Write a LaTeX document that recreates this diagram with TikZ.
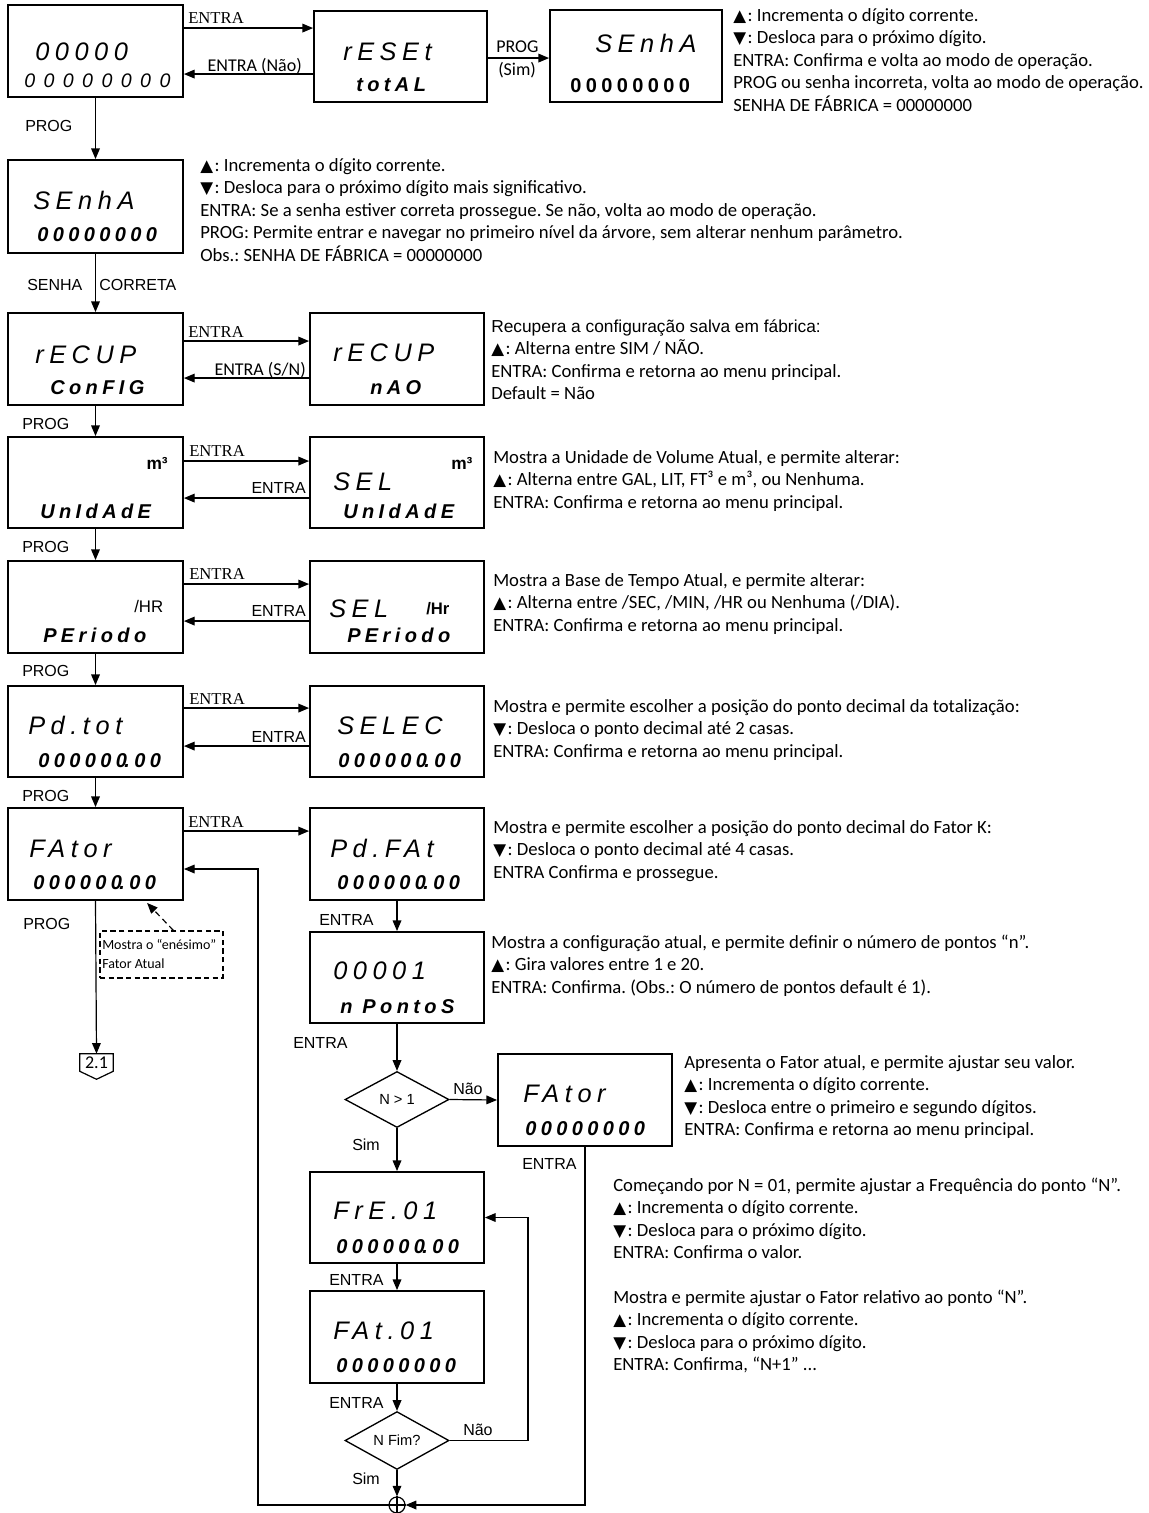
\documentclass[tikz,border=0pt]{standalone}
\usepackage{fontspec}
\setmainfont{Carlito}
\newfontfamily\arialf{Liberation Sans}
\newfontfamily\timesf{Liberation Serif}
\newfontfamily\lcdf[LetterSpace=22]{Liberation Sans}
\newfontfamily\lcdwf[LetterSpace=43]{Liberation Sans}
\newfontfamily\symf{DejaVu Sans}
\usetikzlibrary{arrows.meta,calc,shapes.geometric}
\newcommand\tup{{\symf\fontsize{12.5}{16.9}\selectfont ▲}\kern1.2pt}
\newcommand\tdn{{\symf\fontsize{12.5}{16.9}\selectfont ▼}\kern1.2pt}
% display box from its corners, given in pixel units
\newcommand\pbox[5]{\node[box,minimum width={(#4-#2)*0.75pt},minimum height={(#5-#3)*0.75pt}] (#1) at ({(#2+#4)/2},{(#3+#5)/2}) {};}
\tikzset{
  box/.style={draw,line width=1.4pt,inner sep=0pt},
  arr/.style={line width=0.9pt,-{Triangle[length=8pt,width=6.5pt]}},
  lcdtop/.style={font=\lcdf\itshape\fontsize{19}{22}\selectfont,anchor=base west,inner sep=0pt},
  lcdbot/.style={font=\lcdf\bfseries\itshape\fontsize{15}{18}\selectfont,anchor=base west,inner sep=0pt},
  sans/.style={font=\arialf\fontsize{12}{14}\selectfont,anchor=base west,inner sep=0pt},
  serif/.style={font=\timesf\fontsize{12.5}{14}\selectfont,anchor=base west,inner sep=0pt},
  cal/.style={font=\fontsize{13.5}{15}\selectfont,anchor=base west,inner sep=0pt},
  desc/.style={font=\frenchspacing\fontsize{14}{16.9}\selectfont,align=left,anchor=north west,inner sep=0pt},
  dia/.style={draw,diamond,line width=1pt,inner sep=0pt,minimum width=78pt,minimum height=42pt,font=\arialf\fontsize{11}{13}\selectfont},
}
\begin{document}
\begin{tikzpicture}[x=0.75pt,y=-0.75pt]
\useasboundingbox[fill=white] (0,0) rectangle (1149,1513);

% ---------- boxes ----------
\pbox{A}{8}{5}{183}{97}
\pbox{R}{314}{11}{487}{102}
\pbox{S1}{550}{10}{722}{102}
\pbox{S2}{8}{160}{183}{253}
\pbox{C1}{8}{313}{183}{405}
\pbox{C2}{310}{313}{484}{405}
\pbox{U1}{8}{437}{183}{528}
\pbox{U2}{310}{437}{484}{528}
\pbox{P1}{8}{561}{183}{653}
\pbox{P2}{310}{561}{484}{653}
\pbox{T1}{8}{686}{183}{777}
\pbox{T2}{310}{686}{484}{777}
\pbox{F}{8}{808}{183}{900}
\pbox{PF}{310}{808}{484}{900}
\pbox{NP}{310}{932}{484}{1023}
\pbox{F2}{498}{1054}{672}{1146}
\pbox{FR}{310}{1172}{484}{1263}
\pbox{FT}{310}{1291}{484}{1383}

\node[dia] (D1) at (397,1099.5) {N > 1};
\node[dia] (D2) at (397,1440.5) {N Fim?};
\node[draw,circle,minimum size=12pt,inner sep=0pt,line width=0.9pt] (J) at (397,1505) {};
\draw[line width=0.9pt] (J.north) -- (J.south) (J.west) -- (J.east);

% ---------- display texts ----------
\node[lcdtop] (A1) at (35,61) {00000};
\node[font=\lcdwf\itshape\fontsize{14.7}{18}\selectfont,anchor=base west,inner sep=0pt] (A2) at (24,88) {00000000};
\node[lcdtop] (R1) at (343,61) {rESEt};
\node[lcdbot] (R2) at (356,91) {totAL};
\node[lcdtop] (S11) at (595,53) {SEnhA};
\node[font=\lcdf\bfseries\fontsize{15}{18}\selectfont,anchor=base west,inner sep=0pt] (S12) at (570,93) {00000000};
\node[lcdtop] (S21) at (33,209) {SEnhA};
\node[lcdbot] (S22) at (37,241) {00000000};
\node[lcdtop] (C11) at (35,363) {rECUP};
\node[lcdbot] (C12) at (50,394) {ConFIG};
\node[lcdtop] (C21) at (333,361) {rECUP};
\node[lcdbot] (C22) at (370,394) {nAO};
\node[font=\arialf\bfseries\fontsize{13}{15}\selectfont,anchor=base east,inner sep=0pt] (U11) at (168,469) {m³};
\node[lcdbot] (U12) at (40,518) {UnIdAdE};
\node[lcdtop] (U21) at (333,490) {SEL};
\node[font=\arialf\bfseries\fontsize{13}{15}\selectfont,anchor=base west,inner sep=0pt] (U22) at (451,469) {m³};
\node[lcdbot] (U23) at (343,518) {UnIdAdE};
\node[font=\arialf\fontsize{12.6}{15}\selectfont,anchor=base west,inner sep=0pt] (P11) at (134,612) {/HR};
\node[lcdbot] (P12) at (43,642) {PEriodo};
\node[lcdtop] (P21) at (329,617) {SEL};
\node[font=\arialf\bfseries\fontsize{12.5}{15}\selectfont,anchor=base west,inner sep=0pt] (P22) at (426,614) {/Hr};
\node[lcdbot] (P23) at (347,642) {PEriodo};
\node[lcdtop] (T11) at (28,734) {Pd.tot};
\node[lcdbot] (T12) at (38,767) {000000{\kern-2pt}.00};
\node[lcdtop] (T21) at (337,734) {SELEC};
\node[lcdbot] (T22) at (338,767) {000000{\kern-2pt}.00};
\node[lcdtop] (F1) at (29,857) {FAtor};
\node[lcdbot] (F12) at (33,889) {000000{\kern-2pt}.00};
\node[lcdtop] (PF1) at (330,857) {Pd.FAt};
\node[lcdbot] (PF2) at (337,889) {000000{\kern-2pt}.00};
\node[lcdtop] (NP1) at (333,979) {00001};
\node[lcdbot] (NP2) at (340,1013) {n PontoS};
\node[lcdtop] (F21) at (523,1102) {FAtor};
\node[lcdbot] (F22) at (525,1135) {00000000};
\node[lcdtop] (FR1) at (333,1219) {FrE.01};
\node[lcdbot] (FR2) at (336,1253) {000000{\kern-2pt}.00};
\node[lcdtop] (FT1) at (333,1339) {FAt.01};
\node[lcdbot] (FT2) at (336,1372) {00000000};

% ---------- connectors ----------
\coordinate (a1) at ($(A.north east)+(0,24)$);
\draw[arr] (a1) -- (a1 -| R.west);
\coordinate (a2) at ($(R.north west)+(0,64)$);
\draw[arr] (a2) -- (a2 -| A.east);
\coordinate (a3) at ($(R.north east)+(0,48)$);
\draw[arr] (a3) -- (a3 -| S1.west);
\draw[arr] (A.south) -- (S2.north);
\draw[arr] (S2.south) -- (C1.north);

\coordinate (c1) at ($(C1.north east)+(0,29)$);
\draw[arr] (c1) -- (c1 -| C2.west);
\coordinate (c2) at ($(C2.north west)+(0,66)$);
\draw[arr] (c2) -- (c2 -| C1.east);
\draw[arr] (C1.south) -- (U1.north);

\coordinate (u1) at ($(U1.north east)+(0,25)$);
\draw[arr] (u1) -- (u1 -| U2.west);
\coordinate (u2) at ($(U2.north west)+(0,62)$);
\draw[arr] (u2) -- (u2 -| U1.east);
\draw[arr] (U1.south) -- (P1.north);

\coordinate (p1) at ($(P1.north east)+(0,24)$);
\draw[arr] (p1) -- (p1 -| P2.west);
\coordinate (p2) at ($(P2.north west)+(0,61)$);
\draw[arr] (p2) -- (p2 -| P1.east);
\draw[arr] (P1.south) -- (T1.north);

\coordinate (t1) at ($(T1.north east)+(0,23)$);
\draw[arr] (t1) -- (t1 -| T2.west);
\coordinate (t2) at ($(T2.north west)+(0,61)$);
\draw[arr] (t2) -- (t2 -| T1.east);
\draw[arr] (T1.south) -- (F.north);

\coordinate (f1) at ($(F.north east)+(0,24)$);
\draw[arr] (f1) -- (f1 -| PF.west);
\draw[arr] (PF.south) -- (NP.north);
\draw[arr] (NP.south) -- (D1.north);
\draw[arr] (D1.east) -- (F2.west);
\draw[arr] (D1.south) -- (FR.north);
\draw[arr] (FR.south) -- (FT.north);
\draw[arr] (FT.south) -- (D2.north);
\draw[arr] (D2.south) -- (J.north);
\draw[arr] (D2.east) -| ($(FR.east)+(43,0)$) -- (FR.east);
\draw[arr] (F2.south) |- (J.east);
\draw[arr] (J.west) -| ($(F.east)+(74,15)$) -- ($(F.east)+(0,15)$);

% off-page connector
\node[inner sep=0pt,minimum width=24.75pt,minimum height=12.75pt,font=\fontsize{13.5}{15}\selectfont] (OP) at (96.5,1062.5) {2.1};
\draw[line width=0.9pt] (OP.south west) -- (OP.north west) -- (OP.north east) -- (OP.south east) -- ($(OP.south)+(0,8)$) -- cycle;
\draw[arr] (F.south) -- (OP.north);

% note on the current factor
\node[draw,dashed,dash pattern=on 4pt off 2.5pt,line width=0.8pt,minimum width=92.25pt,minimum height=35.25pt,inner sep=0pt] (NT) at (161.5,954.5) {};
\node[font=\fontsize{10.5}{14.25}\selectfont,align=left,anchor=north west,inner sep=0pt] (NTt) at (102,936) {\strut Mostra o “enésimo”\\Fator Atual};
\draw[arr,dash pattern=on 4.5pt off 3pt] ($(NT.north west)+(74,0)$) -- ($(F.south west)+(140,2)$);

% ---------- connector labels ----------
\node[serif] (l1) at (188,24) {ENTRA};
\node[cal,anchor=base east] (l2) at (302,72) {ENTRA (Não)};
\node[cal] (l3) at (496,53) {PROG};
\node[cal] (l4) at (498,75) {(Sim)};
\node[sans] (l5) at (25,131) {PROG};
\node[sans] (l6) at (27,290) {SENHA};
\node[sans] (l7) at (99,290) {CORRETA};
\node[serif] (l8) at (188,337) {ENTRA};
\node[cal,anchor=base east] (l9) at (306,375) {ENTRA (S/N)};
\node[sans] (l10) at (22,429) {PROG};
\node[serif] (l11) at (189,456) {ENTRA};
\node[sans,anchor=base east] (l12) at (306,493) {ENTRA};
\node[sans] (l13) at (22,552) {PROG};
\node[serif] (l14) at (189,579) {ENTRA};
\node[sans,anchor=base east] (l15) at (306,616) {ENTRA};
\node[sans] (l16) at (22,676) {PROG};
\node[serif] (l17) at (189,704) {ENTRA};
\node[sans,anchor=base east] (l18) at (306,742) {ENTRA};
\node[sans] (l19) at (22,801) {PROG};
\node[serif] (l20) at (188,827) {ENTRA};
\node[sans] (l21) at (23,929) {PROG};
\node[sans] (l22) at (319,925) {ENTRA};
\node[sans] (l23) at (293,1048) {ENTRA};
\node[sans] (l24) at (453,1094) {Não};
\node[sans] (l25) at (352,1150) {Sim};
\node[sans] (l26) at (522,1169) {ENTRA};
\node[sans] (l27) at (329,1285) {ENTRA};
\node[sans] (l28) at (329,1408) {ENTRA};
\node[sans] (l29) at (463,1435) {Não};
\node[sans] (l30) at (352,1484) {Sim};

% ---------- descriptions ----------
\node[desc] (d1) at (733,5) {\strut\tup: Incrementa o dígito corrente.\\
\tdn: Desloca para o próximo dígito.\\
ENTRA: Confirma e volta ao modo de operação.\\
PROG ou senha incorreta, volta ao modo de operação.\\
SENHA DE FÁBRICA = 00000000};
\node[desc] (d2) at (200,155) {\strut\tup: Incrementa o dígito corrente.\\
\tdn: Desloca para o próximo dígito mais significativo.\\
ENTRA: Se a senha estiver correta prossegue. Se não, volta ao modo de operação.\\
PROG: Permite entrar e navegar no primeiro nível da árvore, sem alterar nenhum parâmetro.\\
Obs.: SENHA DE FÁBRICA = 00000000};
\node[desc] (d3) at (491,316) {\strut{\arialf\fontsize{13}{16.9}\selectfont Recupera a configuração salva em fábrica:}\\
\tup: Alterna entre SIM / NÃO.\\
ENTRA: Confirma e retorna ao menu principal.\\
Default = Não};
\node[desc] (d4) at (493,447) {\strut Mostra a Unidade de Volume Atual, e permite alterar:\\
\tup: Alterna entre GAL, LIT, FT³ e m³, ou Nenhuma.\\
ENTRA: Confirma e retorna ao menu principal.};
\node[desc] (d5) at (493,570) {\strut Mostra a Base de Tempo Atual, e permite alterar:\\
\tup: Alterna entre /SEC, /MIN, /HR ou Nenhuma (/DIA).\\
ENTRA: Confirma e retorna ao menu principal.};
\node[desc] (d6) at (493,696) {\strut Mostra e permite escolher a posição do ponto decimal da totalização:\\
\tdn: Desloca o ponto decimal até 2 casas.\\
ENTRA: Confirma e retorna ao menu principal.};
\node[desc] (d7) at (493,817) {\strut Mostra e permite escolher a posição do ponto decimal do Fator K:\\
\tdn: Desloca o ponto decimal até 4 casas.\\
ENTRA Confirma e prossegue.};
\node[desc] (d8) at (491,932) {\strut Mostra a configuração atual, e permite definir o número de pontos “n”.\\
\tup: Gira valores entre 1 e 20.\\
ENTRA: Confirma. (Obs.: O número de pontos default é 1).};
\node[desc] (d9) at (684,1052) {\strut Apresenta o Fator atual, e permite ajustar seu valor.\\
\tup: Incrementa o dígito corrente.\\
\tdn: Desloca entre o primeiro e segundo dígitos.\\
ENTRA: Confirma e retorna ao menu principal.};
\node[desc] (d10) at (613,1175) {\strut Começando por N = 01, permite ajustar a Frequência do ponto “N”.\\
\tup: Incrementa o dígito corrente.\\
\tdn: Desloca para o próximo dígito.\\
ENTRA: Confirma o valor.};
\node[desc] (d11) at (613,1287) {\strut Mostra e permite ajustar o Fator relativo ao ponto “N”.\\
\tup: Incrementa o dígito corrente.\\
\tdn: Desloca para o próximo dígito.\\
ENTRA: Confirma, “N+1” ...};
\end{tikzpicture}
\end{document}
